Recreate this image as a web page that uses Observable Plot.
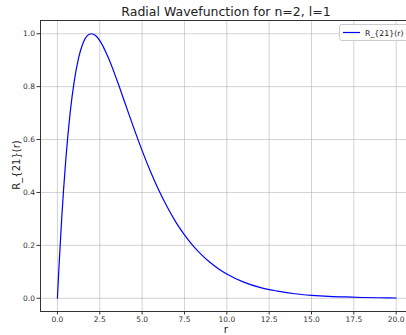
<!DOCTYPE html>
<html>
<head>
<meta charset="utf-8">
<script src="https://cdn.jsdelivr.net/npm/d3@7"></script>
<script src="https://cdn.jsdelivr.net/npm/@observablehq/plot@0.6"></script>
<style>
html,body{margin:0;padding:0;background:#fff;}
svg{display:block;}
</style>
</head>
<body>
<div id="chart"></div>
<script>
const titleText = "Radial Wavefunction for n=2, l=1";
const xLabel = "r";
const yLabel = "R_{21}(r)";
const seriesName = "R_{21}(r)";
const rValues = [0, 0.1, 0.25, 0.5, 0.75, 1, 1.25, 1.5, 1.75, 2, 2.25, 2.5, 3, 3.5, 4, 4.5, 5, 5.5, 6, 6.5, 7, 7.5, 8, 8.5, 9, 9.5, 10, 11, 12, 13, 14, 15, 16, 17, 18, 19, 20];
const Rvalues = [0, 0.129, 0.300, 0.529, 0.701, 0.824, 0.909, 0.963, 0.992, 1.0, 0.993, 0.974, 0.910, 0.827, 0.736, 0.645, 0.558, 0.478, 0.406, 0.343, 0.287, 0.240, 0.199, 0.165, 0.136, 0.112, 0.092, 0.061, 0.040, 0.027, 0.017, 0.011, 0.007, 0.005, 0.003, 0.002, 0.001];
const xTicks = [0, 2.5, 5, 7.5, 10, 12.5, 15, 17.5, 20];
const yTicks = [0, 0.2, 0.4, 0.6, 0.8, 1.0];

const data = rValues.map((r, i) => ({r, R: Rvalues[i]}));

const plot = Plot.plot({
  width: 406,
  height: 335,
  marginLeft: 40,
  marginTop: 20,
  marginBottom: 24,
  marginRight: 0,
  style: {fontFamily: "DejaVu Sans", fontSize: "7.5px", color: "#333", background: "#fff"},
  x: {domain: [-1, 20.61], ticks: xTicks, tickFormat: d => d.toFixed(1), label: null, tickSize: 3.5, tickPadding: 2},
  y: {domain: [-0.05, 1.05], ticks: yTicks, tickFormat: d => d.toFixed(1), label: null, tickSize: 3.5, tickPadding: 2},
  marks: [
    Plot.gridX(xTicks, {stroke: "#b0b0b0", strokeOpacity: 0.7, strokeWidth: 0.8}),
    Plot.gridY(yTicks, {stroke: "#b0b0b0", strokeOpacity: 0.7, strokeWidth: 0.8}),
    Plot.ruleX([-1], {stroke: "#333", strokeWidth: 1}),
    Plot.ruleY([-0.05, 1.05], {stroke: "#333", strokeWidth: 1}),
    Plot.line(data, {x: "r", y: "R", stroke: "#0000ff", strokeWidth: 1.2, curve: "monotone-x"}),
    Plot.axisX({ticks: xTicks, tickFormat: d => d.toFixed(1), tickSize: 3.5, tickPadding: 1.5, label: null}),
    Plot.axisY({ticks: yTicks, tickFormat: d => d.toFixed(1), tickSize: 3.5, tickPadding: 2, label: null})
  ]
});

const svg = d3.select(plot);
svg.append("text").attr("x", 226).attr("y", 16).attr("text-anchor", "middle")
  .attr("font-family", "DejaVu Sans").attr("font-size", "12.5px").attr("fill", "#222").text(titleText);
svg.append("text").attr("x", 226).attr("y", 333).attr("text-anchor", "middle")
  .attr("font-family", "DejaVu Sans").attr("font-size", "10.5px").attr("fill", "#222").text(xLabel);
svg.append("text").attr("transform", "translate(20,165) rotate(-90)").attr("text-anchor", "middle")
  .attr("font-family", "DejaVu Sans").attr("font-size", "10px").attr("fill", "#222").text(yLabel);
const lg = svg.append("g");
lg.append("rect").attr("x", 339.5).attr("y", 24.5).attr("width", 80).attr("height", 16).attr("rx", 2)
  .attr("fill", "#fff").attr("fill-opacity", 0.85).attr("stroke", "#ccc");
lg.append("line").attr("x1", 343).attr("x2", 360).attr("y1", 32.5).attr("y2", 32.5)
  .attr("stroke", "#0000ff").attr("stroke-width", 1.2);
lg.append("text").attr("x", 365).attr("y", 35.5).attr("text-anchor", "start").attr("font-family", "DejaVu Sans")
  .attr("font-size", "7.8px").attr("fill", "#222").text(seriesName);

document.getElementById("chart").appendChild(plot);
</script>
</body>
</html>
